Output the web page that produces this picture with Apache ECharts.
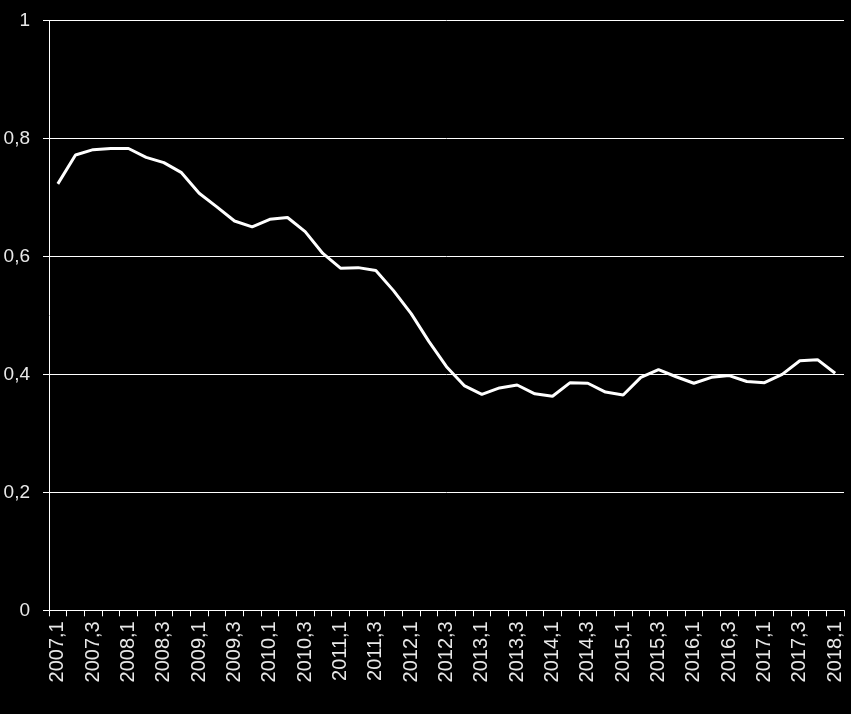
<!DOCTYPE html>
<html>
<head>
<meta charset="utf-8">
<script src="https://cdn.jsdelivr.net/npm/echarts@6/dist/echarts.min.js"></script>
<style>
html,body{margin:0;padding:0;background:#000;}
#chart{width:851px;height:714px;}
</style>
</head>
<body>
<div id="chart"></div>
<script>
const categories = [
  "2007,1","2007,2","2007,3","2007,4",
  "2008,1","2008,2","2008,3","2008,4",
  "2009,1","2009,2","2009,3","2009,4",
  "2010,1","2010,2","2010,3","2010,4",
  "2011,1","2011,2","2011,3","2011,4",
  "2012,1","2012,2","2012,3","2012,4",
  "2013,1","2013,2","2013,3","2013,4",
  "2014,1","2014,2","2014,3","2014,4",
  "2015,1","2015,2","2015,3","2015,4",
  "2016,1","2016,2","2016,3","2016,4",
  "2017,1","2017,2","2017,3","2017,4",
  "2018,1"
];
const values = [
  0.723, 0.772, 0.781, 0.783,
  0.783, 0.768, 0.759, 0.742,
  0.707, 0.684, 0.660, 0.650,
  0.663, 0.666, 0.642, 0.605,
  0.580, 0.581, 0.576, 0.542,
  0.503, 0.456, 0.413, 0.381,
  0.366, 0.377, 0.382, 0.367,
  0.363, 0.386, 0.385, 0.370,
  0.365, 0.395, 0.408, 0.396,
  0.385, 0.395, 0.398, 0.388,
  0.386, 0.400, 0.423, 0.425,
  0.402
];
const yTicks = { min: 0, max: 1, interval: 0.2 };

const chart = echarts.init(document.getElementById('chart'), null, { renderer: 'canvas' });
chart.setOption({
  backgroundColor: '#000000',
  animation: false,
  grid: { left: 49, right: 7, top: 20.5, bottom: 103.7, containLabel: false },
  xAxis: {
    type: 'category',
    data: categories,
    boundaryGap: true,
    axisLine: { show: true, lineStyle: { color: '#ffffff', width: 1 } },
    axisTick: { show: true, interval: 0, length: 6, lineStyle: { color: '#ffffff' } },
    axisLabel: {
      interval: 1,
      rotate: 90,
      margin: 11,
      color: '#e8e8e8',
      fontFamily: 'Liberation Sans',
      fontSize: 20
    },
    splitLine: { show: false }
  },
  yAxis: {
    type: 'value',
    min: yTicks.min,
    max: yTicks.max,
    interval: yTicks.interval,
    axisLine: { show: true, lineStyle: { color: '#ffffff', width: 1 } },
    axisTick: { show: true, length: 6, lineStyle: { color: '#ffffff' } },
    axisLabel: {
      margin: 19,
      color: '#e8e8e8',
      fontFamily: 'Liberation Sans',
      fontSize: 19,
      formatter: v => String(Math.round(v * 10) / 10).replace('.', ',')
    },
    splitLine: { show: true, lineStyle: { color: '#ffffff', width: 1 } }
  },
  series: [{
    type: 'line',
    data: values,
    showSymbol: false,
    symbol: 'none',
    lineStyle: { color: '#ffffff', width: 3 },
    itemStyle: { color: '#ffffff' }
  }]
});
</script>
</body>
</html>
